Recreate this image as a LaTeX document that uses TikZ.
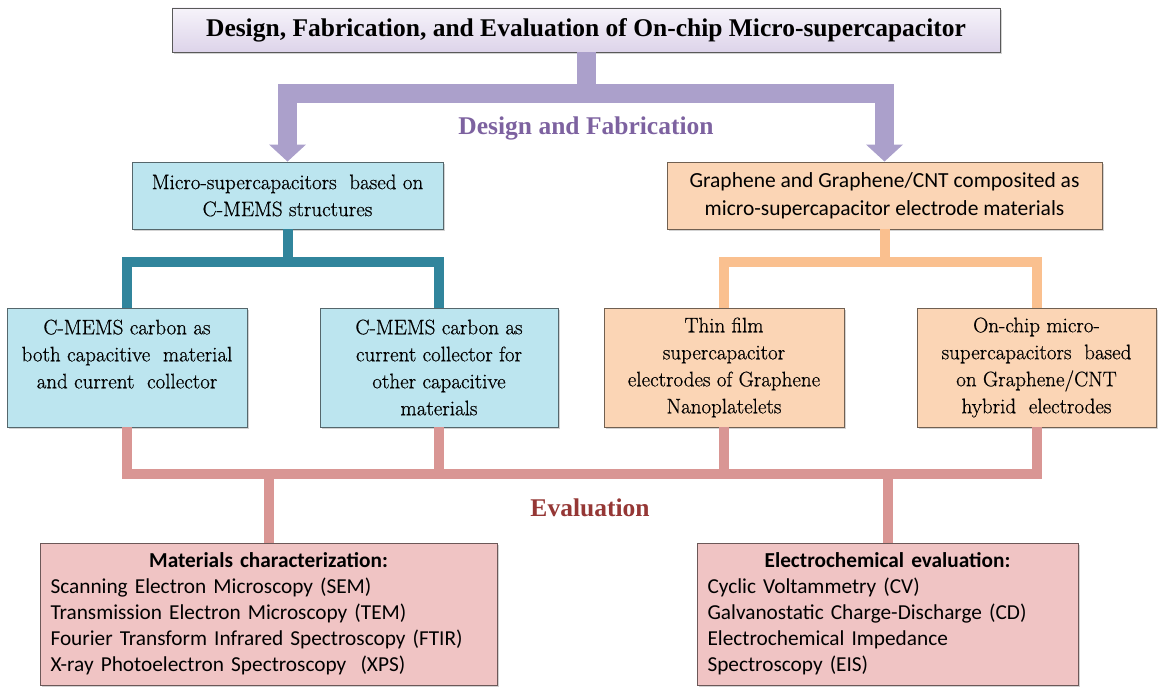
\documentclass[tikz,border=0pt]{standalone}
\usepackage{fontspec}
\newfontfamily\serifb{Liberation Serif}
\newfontfamily\serifr{Latin Modern Roman}[FakeBold=0.6]
\newfontfamily\calibri{Carlito}
\usetikzlibrary{arrows.meta,shadows,calc}
\definecolor{purpArrow}{HTML}{ABA0CB}
\definecolor{purpText}{HTML}{7D62A0}
\definecolor{blueFill}{HTML}{BCE5EF}
\definecolor{tealLine}{HTML}{31859C}
\definecolor{orFill}{HTML}{FBD5B5}
\definecolor{orLine}{HTML}{FAC08F}
\definecolor{pkFill}{HTML}{F0C4C4}
\definecolor{pkLine}{HTML}{D99694}
\definecolor{evText}{HTML}{953735}
\definecolor{lavTop}{HTML}{F6F3FA}
\definecolor{lavBot}{HTML}{DDD4EA}
\begin{document}
\begin{tikzpicture}[x=1pt,y=-1pt,
  basebox/.style={rectangle, draw=#1, line width=0.9pt, inner sep=3pt,
    drop shadow={shadow xshift=2pt, shadow yshift=-2pt, opacity=0.35}},
  titlebox/.style={basebox=gray!70!black, top color=lavTop, bottom color=lavBot,
    font=\serifb\fontsize{25.5}{29}\selectfont\bfseries},
  bluebox/.style={basebox=blueFill!45!black, fill=blueFill, align=center,
    font=\serifr\fontsize{21}{27}\selectfont},
  orbox/.style={basebox=orFill!45!black, fill=orFill, align=center,
    font=\serifr\fontsize{21}{27}\selectfont},
  orsans/.style={basebox=orFill!45!black, fill=orFill, align=center,
    font=\calibri\fontsize{21.5}{28}\selectfont},
  pkbox/.style={basebox=pkFill!45!black, fill=pkFill, align=left,
    font=\calibri\fontsize{21.3}{26}\selectfont},
  purpline/.style={draw=purpArrow, line width=19pt, line join=miter,
    -{Triangle[width=36pt,length=17pt]}},
  tealline/.style={draw=tealLine, line width=10pt, line join=miter},
  orline/.style={draw=orLine, line width=10pt, line join=miter},
  pkline/.style={draw=pkLine, line width=10pt, line join=miter},
  heading/.style={font=\serifb\fontsize{25.5}{29}\selectfont\bfseries}
]
\useasboundingbox (0,0) rectangle (1158,687);

\coordinate (pj) at (0,94);
\coordinate (tj) at (0,262);
\coordinate (bj) at (0,474);

% nodes
\node[titlebox, minimum width=828pt, minimum height=44pt] (title) at (586,30)
  {Design, Fabrication, and Evaluation of On-chip Micro-supercapacitor};

\node[bluebox, minimum width=311pt, minimum height=67pt] (mems) at (287.5,195.5)
  {Micro-supercapacitors\ \ based on\\C-MEMS structures};
\node[orsans, minimum width=435pt, minimum height=67pt] (graph) at (884.5,195.5)
  {Graphene and Graphene/CNT composited as\\micro-supercapacitor electrode materials};

\node[bluebox, minimum width=240pt, minimum height=119pt] (l1) at (127,367.5)
  {C-MEMS carbon as\\both capacitive\ \ material\\and current\ \ collector\\\mbox{}};
\node[bluebox, minimum width=238pt, minimum height=119pt] (l2) at (439,367.5)
  {C-MEMS carbon as\\current collector for\\other capacitive\\materials};
\node[orbox, minimum width=240pt, minimum height=119pt] (r1) at (724,367.5)
  {Thin film\\supercapacitor\\electrodes of Graphene\\Nanoplatelets};
\node[orbox, minimum width=239pt, minimum height=119pt] (r2) at (1036.5,367.5)
  {On-chip micro-\\supercapacitors\ \ based\\on Graphene/CNT\\hybrid\ \ electrodes};

\node[pkbox, minimum width=457pt, minimum height=142pt, text width=436pt] (p1) at (268.5,614)
  {\makebox[\linewidth]{\bfseries Materials characterization:}\\
   Scanning Electron Microscopy (SEM)\\
   Transmission Electron Microscopy (TEM)\\
   Fourier Transform Infrared Spectroscopy (FTIR)\\
   X-ray Photoelectron Spectroscopy\ \ (XPS)};
\node[pkbox, minimum width=381pt, minimum height=142pt, text width=360pt] (p2) at (887.5,614)
  {\makebox[\linewidth]{\bfseries Electrochemical evaluation:}\\
   Cyclic Voltammetry\ (CV)\\
   Galvanostatic Charge-Discharge (CD)\\
   Electrochemical Impedance\\
   Spectroscopy (EIS)};

\node[heading, text=purpText] (dftext) at (586,128) {Design and Fabrication};
\node[heading, text=evText] (evtext) at (590,508) {Evaluation};

% connectors
\draw[purpline] (title.south) -- (title.south |- pj) -| (mems.north);
\draw[purpline] (title.south) -- (title.south |- pj) -| (graph.north);

\draw[tealline] (mems.south) -- (mems.south |- tj) -| (l1.north);
\draw[tealline] (mems.south) -- (mems.south |- tj) -| (l2.north);

\draw[orline] (graph.south) -- (graph.south |- tj) -| (r1.north);
\draw[orline] (graph.south) -- (graph.south |- tj) -| (r2.north);

\draw[pkline] (l1.south) |- (r2.south |- bj) -- (r2.south);
\draw[pkline] (l2.south) -- (l2.south |- bj);
\draw[pkline] (r1.south) -- (r1.south |- bj);
\draw[pkline] (p1.north |- bj) -- (p1.north);
\draw[pkline] (p2.north |- bj) -- (p2.north);
\end{tikzpicture}
\end{document}
